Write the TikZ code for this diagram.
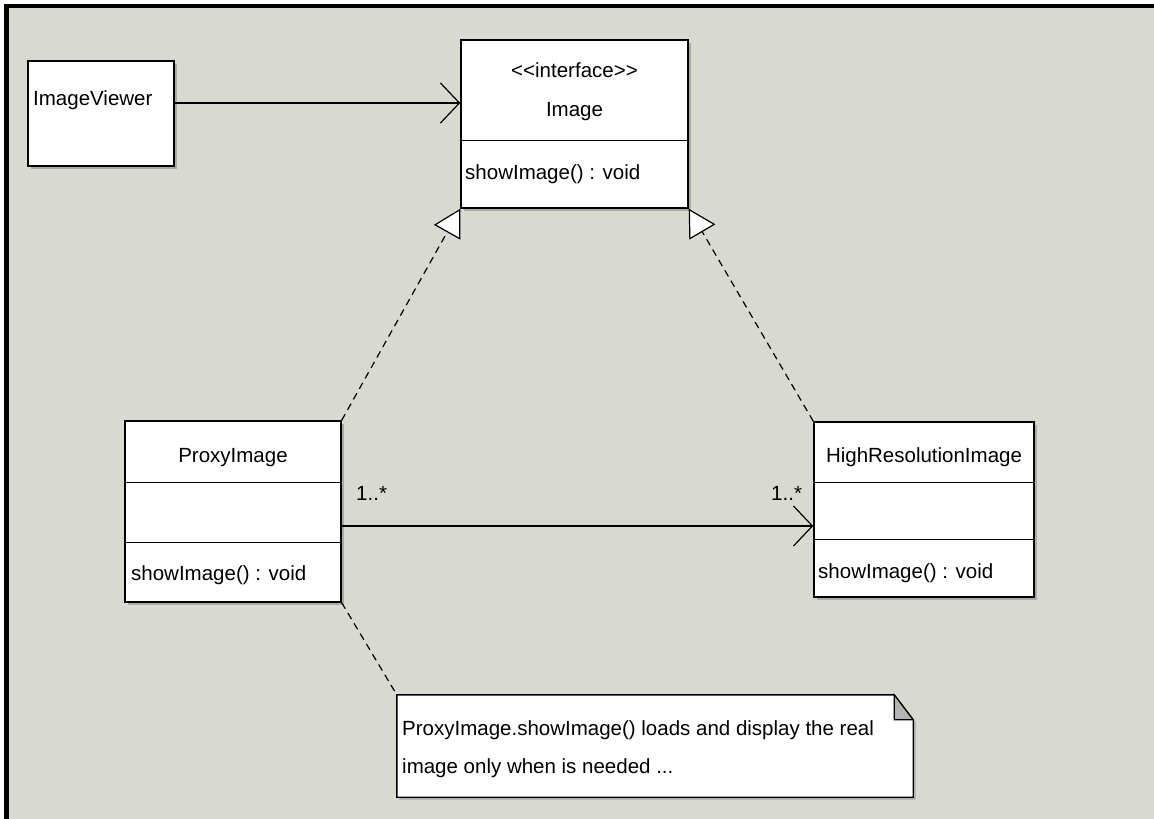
\documentclass[tikz,border=0pt]{standalone}
\usepackage{fontspec}
\setmainfont{Liberation Sans}
\usetikzlibrary{arrows.meta,shadows,calc}
\definecolor{bg}{RGB}{216,217,209}
\definecolor{shade}{RGB}{140,140,140}
\definecolor{fold}{RGB}{180,180,180}
\begin{document}
\begin{tikzpicture}[x=1pt,y=-1pt, font=\fontsize{20.5}{24}\selectfont,
 box/.style={draw=black, line width=1.4pt, fill=white, inner sep=0pt,
   drop shadow={shadow xshift=2.5pt, shadow yshift=-2.5pt, fill=shade, opacity=0.6}},
 lbl/.style={inner sep=0pt, anchor=base west},
 clbl/.style={inner sep=0pt, anchor=base},
 divider/.style={line width=1.4pt},
 assoc/.style={line width=1.4pt, -{Straight Barb[length=19pt,width=40pt,line width=1.2pt]}},
 real/.style={line width=1.2pt, dash pattern=on 7pt off 5pt,
   -{Triangle[open,fill=white,length=27pt,width=30pt,line width=1.2pt]}},
 anchorline/.style={line width=1.2pt, dash pattern=on 7pt off 5pt},
 notebox/.style={draw=black, line width=1.4pt, fill=white,
   drop shadow={shadow xshift=2.5pt, shadow yshift=-2.5pt, fill=shade, opacity=0.6}}]
% frame and background
\fill[bg] (0,0) rectangle (1154,819);
\fill[white] (0,0) rectangle (1154,4);
\fill[white] (0,0) rectangle (4,819);
\fill[black] (4,4) rectangle (1154,8);
\fill[black] (4,4) rectangle (9,819);
\useasboundingbox (0,0) rectangle (1154,819);

% ImageViewer
\node[box, minimum width=146, minimum height=105] (viewer) at (101,113.5) {};
\node[lbl] (viewerT) at (33,105) {ImageViewer};

% Image interface
\node[box, minimum width=227, minimum height=168] (image) at (574.5,124) {};
\draw[divider] (image.north west) ++(0,101) -- ++(227,0);
\node[clbl] (stereo) at (574.5,77) {<\kern0pt<interface>\kern0pt>};
\node[clbl] (imgname) at (574.5,116) {Image};
\node[lbl] (imgop) at (465,179) {showImage() : void};

% ProxyImage
\node[box, minimum width=216, minimum height=181] (proxy) at (233,511.5) {};
\draw[divider] (proxy.north west) ++(0,62) -- ++(216,0);
\draw[divider] (proxy.north west) ++(0,122) -- ++(216,0);
\node[clbl] (proxyname) at (233,462) {ProxyImage};
\node[lbl] (proxyop) at (131,580) {showImage() : void};

% HighResolutionImage
\node[box, minimum width=220, minimum height=175] (hires) at (924,509.5) {};
\draw[divider] (hires.north west) ++(0,61) -- ++(220,0);
\draw[divider] (hires.north west) ++(0,118) -- ++(220,0);
\node[clbl] (hiresname) at (924,462) {HighResolutionImage};
\node[lbl] (hiresop) at (818,578) {showImage() : void};

% Note
\node[minimum width=516, minimum height=102, inner sep=0pt] (note) at (655,746) {};
\path[notebox] (note.north west) -- ([xshift=-19pt]note.north east)
  -- ([yshift=-25pt]note.north east) -- (note.south east) -- (note.south west) -- cycle;
\filldraw[fill=fold, line width=1.2pt] ([xshift=-19pt]note.north east)
  -- ([xshift=-19pt,yshift=-25pt]note.north east) -- ([yshift=-25pt]note.north east) -- cycle;
\node[lbl] (note1) at (402,735) {ProxyImage.showImage() loads and display the real};
\node[lbl] (note2) at (402,773) {image only when is needed ...};

% connectors
\path ([yshift=10.5pt]viewer.east) coordinate (v1);
\path ([yshift=-14.5pt]proxy.east) coordinate (p1);
\draw[assoc] (v1) -- (v1 -| image.west);
\draw[assoc] (p1) -- (p1 -| hires.west);
\draw[real] (proxy.north east) -- (image.south west);
\draw[real] (hires.north west) -- (image.south east);
\draw[anchorline] (proxy.south east) -- (note.north west);

% multiplicities
\node[lbl] (m1) at (356,500) {1..*};
\node[lbl] (m2) at (771,500) {1..*};
\end{tikzpicture}
\end{document}
